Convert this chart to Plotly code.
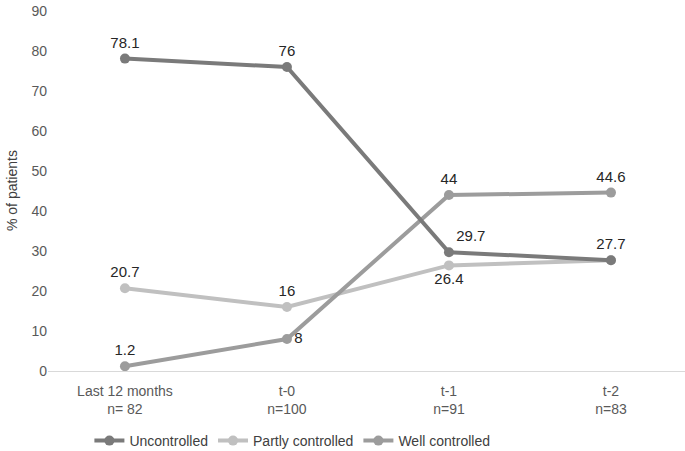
import plotly.graph_objects as go

categories = ["Last 12 months<br>n= 82", "t-0<br>n=100", "t-1<br>n=91", "t-2<br>n=83"]
uncontrolled = [78.1, 76, 29.7, 27.7]
partly = [20.7, 16, 26.4, 27.7]
well = [1.2, 8, 44, 44.6]

unc_text = [str(v) for v in uncontrolled]
partly_text = [str(v) for v in partly[:3]] + [""]
well_text = [str(v) for v in well]

colors = {"Uncontrolled": "#7a7a7a", "Partly controlled": "#c0c0c0", "Well controlled": "#9c9c9c"}
font = dict(family="Liberation Sans, Arial, sans-serif", size=15, color="#262626")

fig = go.Figure()
fig.add_trace(go.Scatter(x=categories, y=partly, name="Partly controlled", mode="lines+markers+text",
                         text=partly_text, textposition=["top center", "top center", "bottom center", "top center"],
                         line=dict(color=colors["Partly controlled"], width=4),
                         marker=dict(size=10, color=colors["Partly controlled"]), textfont=font,
                         legendrank=2))
fig.add_trace(go.Scatter(x=categories, y=well, name="Well controlled", mode="lines+markers+text",
                         text=well_text, textposition=["top center", "middle right", "top center", "top center"],
                         line=dict(color=colors["Well controlled"], width=4),
                         marker=dict(size=10, color=colors["Well controlled"]), textfont=font,
                         legendrank=3))
fig.add_trace(go.Scatter(x=categories, y=uncontrolled, name="Uncontrolled", mode="lines+markers+text",
                         text=unc_text, textposition=["top center", "top center", "top right", "top center"],
                         line=dict(color=colors["Uncontrolled"], width=4),
                         marker=dict(size=10, color=colors["Uncontrolled"]), textfont=font,
                         legendrank=1))

fig.update_layout(
    width=685, height=451,
    margin=dict(l=48, r=0, t=11, b=80, autoexpand=False),
    plot_bgcolor="white", paper_bgcolor="white",
    font=dict(family="Liberation Sans, Arial, sans-serif", size=14, color="#595959"),
    showlegend=True,
    legend=dict(orientation="h", x=0.065, xanchor="left", y=-0.15, yanchor="top",
                font=dict(size=14, color="#404040"), tracegroupgap=0),
    xaxis=dict(type="category", range=[-0.475, 3.457], showgrid=False, showline=False,
               ticks="", automargin=False, ticklabelstandoff=10,
               tickfont=dict(size=14, color="#595959")),
    yaxis=dict(range=[0, 90], dtick=10, showgrid=False, zeroline=True, zerolinecolor="#d9d9d9",
               zerolinewidth=1, showline=False, ticks="", automargin=False,
               tickfont=dict(size=14, color="#595959")),
    annotations=[dict(text="% of patients", xref="paper", yref="paper", x=0, y=0.5,
                      xanchor="center", yanchor="middle", xshift=-36, textangle=-90,
                      showarrow=False, font=dict(size=14, color="#404040"))],
)

fig.write_html("out.html", config={"displayModeBar": False},
               post_script="document.body.style.margin='0';")
